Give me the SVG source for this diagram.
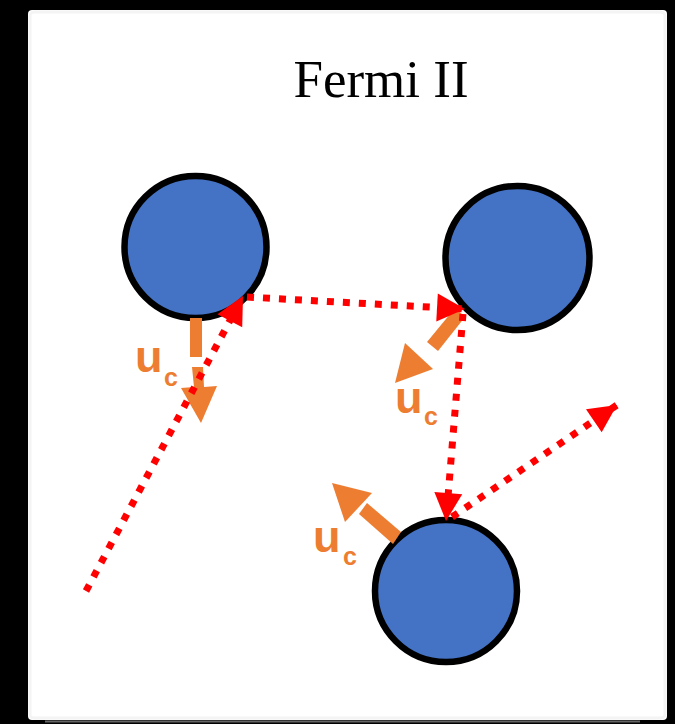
<svg xmlns="http://www.w3.org/2000/svg" width="675" height="724" viewBox="0 0 675 724">
<defs>
<marker id="redHead" markerUnits="userSpaceOnUse" markerWidth="32" markerHeight="32" viewBox="0 0 32 32" refX="30" refY="16" orient="auto">
<path d="M2,2 L30,16 L2,30 Z" fill="#FF0000"/>
</marker>
</defs>
<style>
.ball{fill:#4472C4;stroke:#000;stroke-width:6.5}
.ray{fill:none;stroke:#FF0000;stroke-width:7;stroke-dasharray:7 9;marker-end:url(#redHead)}
.uc{fill:#ED7D31}
.lbl{font-family:"Liberation Sans",Arial,sans-serif;font-weight:bold;fill:#ED7D31}
</style>
<rect x="0" y="0" width="675" height="724" fill="#000"/>
<rect x="28" y="10" width="639" height="710" rx="4" fill="#fff"/>
<rect x="30" y="12" width="635" height="706" rx="4" fill="none" stroke="#f4f4f4" stroke-width="3"/>
<line x1="45" y1="721.5" x2="640" y2="721.5" stroke="#aaa" stroke-width="2" opacity="0.6"/>
<text x="381" y="97" font-family="'Liberation Serif','Times New Roman',serif" font-size="53" text-anchor="middle" fill="#000">Fermi II</text>
<g id="ball1"><circle class="ball" cx="195.5" cy="247" r="71"/></g>
<g id="ball2"><circle class="ball" cx="517.5" cy="258" r="72"/></g>
<g id="ball3"><circle class="ball" cx="446" cy="591" r="71"/></g>
<g id="velocity">
<g id="uc1">
<rect class="uc" x="190" y="318" width="12" height="39"/>
<polygon class="uc" points="192,367 203,367 204,387 217,386 201,423 181,388 194,387"/>
<text class="lbl" x="135" y="372" font-size="45">u</text>
<text class="lbl" x="164" y="386" font-size="25">c</text>
</g>
<g id="uc2">
<polygon class="uc" points="455,308 465,317 438,351 427,342"/>
<polygon class="uc" points="395,383 405,343 433,369"/>
<text class="lbl" x="395" y="413" font-size="45">u</text>
<text class="lbl" x="424" y="425" font-size="25">c</text>
</g>
<g id="uc3">
<polygon class="uc" points="401,532 393,544 359,514 367,503"/>
<polygon class="uc" points="332,483 372,493 345,522"/>
<text class="lbl" x="313" y="552" font-size="45">u</text>
<text class="lbl" x="343" y="565" font-size="25">c</text>
</g>
</g>
<g id="connectors">
<path class="ray" d="M86,591 L243,296"/>
<path class="ray" d="M247,297 L465,309"/>
<path class="ray" d="M463,314 L446,521"/>
<path class="ray" d="M452,517 L617,405"/>
</g>
</svg>
